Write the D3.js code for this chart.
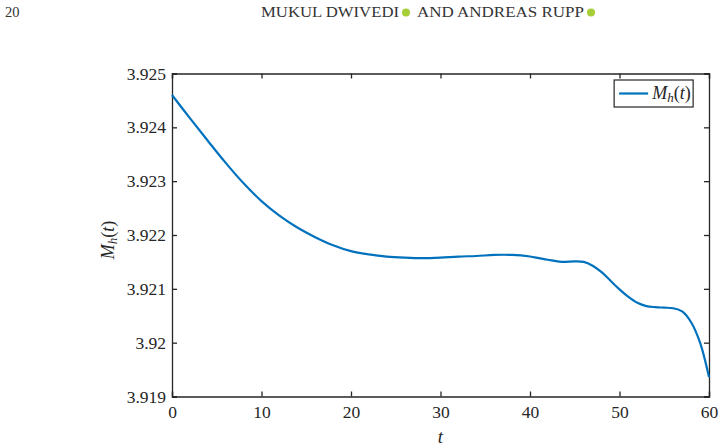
<!DOCTYPE html>
<html>
<head>
<meta charset="utf-8">
<script src="https://cdn.jsdelivr.net/npm/d3@7"></script>
<style>
  body { margin: 0; background: #fff; }
</style>
</head>
<body>
<div class="canvas"></div>
<script>
// values
const tValues = [0, 2, 4, 6, 8, 10, 12, 14, 16, 18, 20, 22, 24, 26, 28, 30, 32, 34, 36, 38, 40, 41, 42, 43.5, 45, 46, 47, 48, 49, 50, 51, 52, 53, 54, 55, 56, 57, 58, 59, 60];
const mValues = [3.92460, 3.92417, 3.92375, 3.92334, 3.92296, 3.92263, 3.92236, 3.92214, 3.92196, 3.92181, 3.92170, 3.92164, 3.92160, 3.92158, 3.92157, 3.92158, 3.92160, 3.92161, 3.92163, 3.92163, 3.92160, 3.92157, 3.92154, 3.92150, 3.92151, 3.92150, 3.92143, 3.92131, 3.92115, 3.92099, 3.92085, 3.92074, 3.92068, 3.92066, 3.92065, 3.92064, 3.92058, 3.92038, 3.92000, 3.91936];
const xTicks = [0, 10, 20, 30, 40, 50, 60];
const yTicks = [3.919, 3.92, 3.921, 3.922, 3.923, 3.924, 3.925];
const yTickLabels = ["3.919", "3.92", "3.921", "3.922", "3.923", "3.924", "3.925"];

const serif = "'Liberation Serif', 'Times New Roman', serif";
const margin = { t: 73.5, r: 15, b: 51.5, l: 172 };
const svgWidth = 724;
const svgHeight = 448;
const gWidth = svgWidth - margin.l - margin.r;
const gHeight = svgHeight - margin.b - margin.t;
const axisColor = "#262626";

const svg = d3
  .select(".canvas")
  .append("svg")
  .attr("width", svgWidth)
  .attr("height", svgHeight)
  .style("font-family", serif);

// page header
const hdr = (x, text, len) => {
  const t = svg.append("text")
    .attr("x", x).attr("y", 17)
    .style("font-family", serif)
    .style("font-size", "14.5px")
    .style("fill", "#333")
    .text(text);
  if (len) t.attr("textLength", len).attr("lengthAdjust", "spacingAndGlyphs");
};
hdr(5, "20");
hdr(261, "MUKUL DWIVEDI", 138);
hdr(417, "AND ANDREAS RUPP", 167);
[406, 591].forEach(cx => {
  svg.append("circle").attr("cx", cx).attr("cy", 12.5).attr("r", 4).attr("fill", "#a6ce39");
});

const g = svg
  .append("g")
  .attr("transform", `translate(${margin.l}, ${margin.t})`);

const x = d3.scaleLinear().domain([0, 60]).range([0, gWidth]);
const y = d3.scaleLinear().domain([3.919, 3.925]).range([gHeight, 0]);

const tickLen = 5;
const xAxis = d3.axisBottom(x).tickValues(xTicks).tickSize(-tickLen).tickPadding(9).tickFormat(d3.format("d"));
const yAxis = d3.axisLeft(y).tickValues(yTicks).tickSize(-tickLen).tickPadding(6)
  .tickFormat((d, i) => yTickLabels[i]);
const xTop = d3.axisTop(x).tickValues(xTicks).tickSize(-tickLen).tickFormat("");
const yRight = d3.axisRight(y).tickValues(yTicks).tickSize(-tickLen).tickFormat("");

const styleAxis = sel => {
  sel.attr("font-family", null).attr("font-size", null);
  sel.selectAll("path.domain").attr("stroke", axisColor).attr("stroke-width", 1.3);
  sel.selectAll(".tick line").attr("stroke", axisColor).attr("stroke-width", 1.3);
  sel.selectAll("text")
    .style("font-family", serif)
    .style("font-size", "17.5px")
    .attr("fill", axisColor);
};

g.append("g").attr("transform", `translate(0, ${gHeight})`).call(xAxis).call(styleAxis);
g.append("g").call(yAxis).call(styleAxis);
g.append("g").call(xTop).call(styleAxis);
g.append("g").attr("transform", `translate(${gWidth}, 0)`).call(yRight).call(styleAxis);

const data = tValues.map((t, i) => ({ t: t, m: mValues[i] }));

const line = d3
  .line()
  .x(d => x(d.t))
  .y(d => y(d.m))
  .curve(d3.curveCatmullRom.alpha(0.5));

g.append("path")
  .datum(data)
  .attr("fill", "none")
  .attr("stroke", "#0072bd")
  .attr("stroke-width", 2.2)
  .attr("d", line);

// math label M_h(t)
const mathLabel = sel => {
  sel.style("font-family", serif).style("font-size", "18px").attr("fill", axisColor);
  sel.append("tspan").style("font-style", "italic").text("M");
  sel.append("tspan").style("font-style", "italic").style("font-size", "13px").attr("dy", 3).text("h");
  sel.append("tspan").attr("dy", -3).text("(");
  sel.append("tspan").style("font-style", "italic").text("t");
  sel.append("tspan").text(")");
};

// axis labels
g.append("text")
  .attr("x", gWidth / 2)
  .attr("y", gHeight + 46)
  .attr("text-anchor", "middle")
  .style("font-family", serif)
  .style("font-size", "19px")
  .style("font-style", "italic")
  .attr("fill", axisColor)
  .text("t");

g.append("text")
  .attr("transform", `translate(-58, ${gHeight / 2 + 5}) rotate(-90)`)
  .attr("text-anchor", "middle")
  .call(mathLabel);

// legend
const legend = g.append("g").attr("transform", `translate(${x(49.4)}, 6.5)`);
legend.append("rect")
  .attr("width", 79)
  .attr("height", 27)
  .attr("fill", "#fff")
  .attr("stroke", axisColor)
  .attr("stroke-width", 1.2);
legend.append("line")
  .attr("x1", 5).attr("x2", 34)
  .attr("y1", 13.5).attr("y2", 13.5)
  .attr("stroke", "#0072bd")
  .attr("stroke-width", 2.2);
legend.append("text").attr("x", 38).attr("y", 19).call(mathLabel);
</script>
</body>
</html>
